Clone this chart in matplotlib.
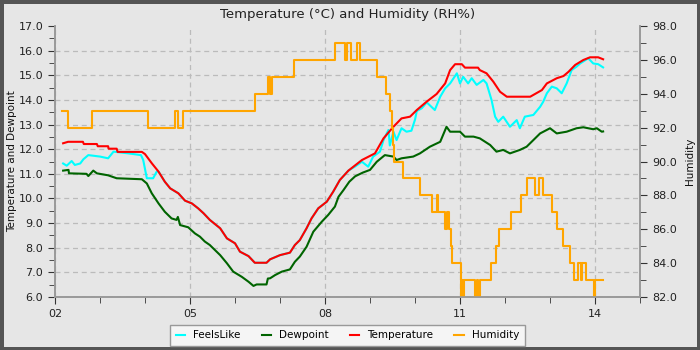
import matplotlib.pyplot as plt
from matplotlib.ticker import MultipleLocator, FormatStrFormatter, FuncFormatter

# hour of day
temp_t = [2.18, 2.29, 2.62, 2.64, 2.93, 2.95, 3.18, 3.19, 3.37, 3.39, 3.93, 4.00,
          4.15, 4.30, 4.44, 4.56, 4.74, 4.89, 5.04, 5.18, 5.30, 5.44, 5.67, 5.82,
          6.00, 6.11, 6.30, 6.44, 6.70, 6.78, 7.00, 7.22, 7.33, 7.44, 7.59, 7.70,
          7.85, 8.04, 8.18, 8.33, 8.52, 8.82, 9.11, 9.30, 9.52, 9.70, 9.89, 10.04,
          10.26, 10.48, 10.67, 10.78, 10.89, 11.04, 11.11, 11.40, 11.44, 11.59,
          11.74, 11.89, 12.04, 12.56, 12.82, 12.93, 13.15, 13.30, 13.41, 13.56,
          13.74, 13.89, 14.07, 14.18]
temp_v = [12.24, 12.30, 12.30, 12.21, 12.21, 12.12, 12.12, 12.02, 12.02, 11.89, 11.89, 11.80,
          11.43, 11.09, 10.68, 10.41, 10.21, 9.91, 9.80, 9.60, 9.40, 9.13, 8.79, 8.38,
          8.18, 7.84, 7.66, 7.39, 7.39, 7.53, 7.70, 7.80, 8.11, 8.31, 8.79, 9.19,
          9.60, 9.87, 10.27, 10.75, 11.13, 11.56, 11.83, 12.44, 12.91, 13.25, 13.32, 13.59,
          13.93, 14.24, 14.67, 15.21, 15.45, 15.45, 15.31, 15.31, 15.21, 15.08,
          14.74, 14.33, 14.13, 14.13, 14.40, 14.67, 14.88, 14.97, 15.14, 15.42,
          15.62, 15.73, 15.73, 15.65]

feels_t = [2.18, 2.26, 2.37, 2.44, 2.56, 2.63, 2.74, 3.00, 3.18, 3.30, 3.63, 3.91,
           3.96, 4.04, 4.18, 4.26, 4.30, 4.44, 4.56, 4.74, 4.89, 5.04, 5.18, 5.30,
           5.44, 5.67, 5.82, 6.00, 6.11, 6.30, 6.44, 6.70, 6.78, 7.00, 7.22, 7.33,
           7.44, 7.59, 7.70, 7.85, 8.04, 8.18, 8.33, 8.52, 8.67, 8.82, 8.96, 9.07,
           9.22, 9.30, 9.41, 9.44, 9.52, 9.59, 9.70, 9.81, 9.92, 10.00, 10.04, 10.15,
           10.26, 10.44, 10.56, 10.67, 10.78, 10.93, 11.00, 11.07, 11.18, 11.26,
           11.37, 11.52, 11.59, 11.70, 11.78, 11.85, 11.96, 12.11, 12.26, 12.33,
           12.44, 12.63, 12.78, 12.85, 12.93, 13.04, 13.15, 13.26, 13.37, 13.48,
           13.59, 13.67, 13.85, 13.96, 14.07, 14.18]
feels_v = [11.42, 11.33, 11.52, 11.36, 11.42, 11.59, 11.76, 11.70, 11.63, 11.90, 11.83, 11.76,
           11.56, 10.82, 10.82, 11.09, 11.09, 10.68, 10.41, 10.21, 9.91, 9.80, 9.60, 9.40,
           9.13, 8.79, 8.38, 8.18, 7.84, 7.66, 7.39, 7.39, 7.53, 7.70, 7.80, 8.11,
           8.31, 8.79, 9.19, 9.60, 9.87, 10.27, 10.75, 11.13, 11.30, 11.49, 11.29, 11.70,
           11.90, 12.37, 12.78, 12.15, 12.71, 12.37, 12.85, 12.71, 12.75, 13.20, 13.55, 13.66,
           13.90, 13.59, 14.13, 14.47, 14.67, 15.08, 14.67, 14.94, 14.67, 14.88,
           14.61, 14.81, 14.67, 14.00, 13.32, 13.11, 13.32, 12.91, 13.18, 12.85,
           13.32, 13.39, 13.72, 13.93, 14.27, 14.54, 14.47, 14.27, 14.67, 15.21,
           15.35, 15.48, 15.69, 15.48, 15.45, 15.32]

dew_t = [2.18, 2.30, 2.31, 2.70, 2.74, 2.85, 2.93, 3.18, 3.37, 3.93, 4.04, 4.15,
         4.30, 4.44, 4.59, 4.70, 4.73, 4.78, 4.96, 5.11, 5.22, 5.33, 5.44, 5.67,
         5.82, 5.96, 6.15, 6.30, 6.41, 6.48, 6.70, 6.73, 6.78, 6.89, 7.04, 7.22,
         7.33, 7.44, 7.59, 7.74, 7.93, 8.07, 8.22, 8.30, 8.41, 8.54, 8.67, 8.84,
         9.00, 9.15, 9.33, 9.52, 9.59, 9.70, 9.96, 10.11, 10.33, 10.56, 10.70, 10.78,
         11.00, 11.11, 11.30, 11.44, 11.67, 11.81, 11.96, 12.11, 12.33, 12.48,
         12.63, 12.78, 13.00, 13.15, 13.37, 13.59, 13.74, 13.96, 14.04, 14.15, 14.18]
dew_v = [11.13, 11.16, 11.02, 11.00, 10.91, 11.13, 11.02, 10.94, 10.82, 10.78, 10.61, 10.21,
         9.80, 9.46, 9.19, 9.13, 9.25, 8.92, 8.83, 8.58, 8.45, 8.25, 8.11, 7.70,
         7.37, 7.03, 6.82, 6.62, 6.45, 6.51, 6.51, 6.75, 6.76, 6.89, 7.03, 7.12,
         7.43, 7.64, 8.04, 8.65, 9.06, 9.33, 9.67, 10.07, 10.34, 10.68, 10.90, 11.05,
         11.16, 11.49, 11.76, 11.70, 11.56, 11.63, 11.70, 11.83, 12.10, 12.30, 12.91, 12.71,
         12.71, 12.51, 12.51, 12.44, 12.17, 11.90, 11.97, 11.83, 11.97, 12.10,
         12.37, 12.64, 12.85, 12.64, 12.71, 12.85, 12.89, 12.81, 12.85, 12.71, 12.72]

hum_t = [2.16, 2.29, 2.82, 4.07, 4.67, 4.73, 4.84, 6.44, 6.73, 6.78, 6.82, 7.31,
         8.22, 8.44, 8.49, 8.58, 8.71, 8.78, 9.16, 9.36, 9.44, 9.49, 9.51, 9.53,
         9.73, 10.11, 10.38, 10.49, 10.52, 10.67, 10.71, 10.76, 10.80, 10.82, 11.02,
         11.04, 11.07, 11.09, 11.33, 11.37, 11.40, 11.44, 11.69, 11.80, 11.87, 12.13,
         12.35, 12.49, 12.67, 12.76, 12.84, 13.04, 13.15, 13.28, 13.44, 13.53, 13.62,
         13.69, 13.71, 13.79, 13.98, 14.00, 14.18]
hum_v = [93, 92, 93, 92, 93, 92, 93, 94, 95, 94, 95, 96,
         97, 96, 97, 96, 97, 96, 95, 94, 93, 92, 91, 90,
         89, 88, 87, 88, 87, 86, 87, 86, 85, 84, 82,
         83, 82, 83, 82, 83, 82, 83, 84, 85, 86, 87,
         88, 89, 88, 89, 88, 87, 86, 85, 84, 83, 84,
         83, 84, 83, 82, 83, 83]

hour_ticks = [2, 5, 8, 11, 14]
temp_ticks = [6, 7, 8, 9, 10, 11, 12, 13, 14, 15, 16, 17]

bg = '#e6e6e6'
axis_col = '#999999'

fig = plt.figure(figsize=(7, 3.5), dpi=100, facecolor=bg)
fig.patch.set_edgecolor('#555555')
fig.patch.set_linewidth(5)
ax = fig.add_axes([0.0786, 0.1514, 0.8357, 0.7743], facecolor=bg)
ax2 = ax.twinx()

l1, = ax.plot(feels_t, feels_v, color='#00ffff', lw=1.5, label='FeelsLike')
l2, = ax.plot(dew_t, dew_v, color='#006400', lw=1.5, label='Dewpoint')
l3, = ax.plot(temp_t, temp_v, color='#ff0000', lw=1.5, label='Temperature')
l4, = ax2.plot(hum_t, hum_v, color='#ffa500', lw=1.5, drawstyle='steps-post', label='Humidity')

ax.set_xlim(2, 15)
ax.set_ylim(6, 17)
ax2.set_ylim(82, 98)

ax.set_xticks(hour_ticks)
ax.xaxis.set_minor_locator(MultipleLocator(1))
ax.xaxis.set_major_formatter(FuncFormatter(lambda v, p: '%02d' % int(round(v))))
ax.set_yticks(temp_ticks)
ax.yaxis.set_minor_locator(MultipleLocator(0.5))
ax.yaxis.set_major_formatter(FormatStrFormatter('%.1f'))
ax2.yaxis.set_major_locator(MultipleLocator(2))
ax2.yaxis.set_minor_locator(MultipleLocator(1))
ax2.yaxis.set_major_formatter(FormatStrFormatter('%.1f'))

for a in (ax, ax2):
    a.spines['top'].set_visible(False)
    for s in ('left', 'right', 'bottom'):
        a.spines[s].set_color(axis_col)
        a.spines[s].set_linewidth(1.2)
    a.tick_params(which='major', length=5, color='#333333', labelsize=8, labelcolor='#222222')
    a.tick_params(which='minor', length=4, color='#333333')

ax.grid(True, which='major', linestyle=(0, (4, 3)), color='#bbbbbb', linewidth=0.9)
ax.set_axisbelow(True)

ax.set_ylabel('Temperature and Dewpoint', fontsize=7.5, color='#111111', labelpad=1)
ax2.set_ylabel('Humidity', fontsize=7.5, color='#111111', labelpad=6)
ax.set_title('Temperature (°C) and Humidity (RH%)', fontsize=9.5, color='#222222', pad=6)

leg = ax.legend(handles=[l1, l2, l3, l4], loc='upper center', bbox_to_anchor=(0.5, -0.085),
                ncol=4, fontsize=7.5, frameon=True, fancybox=False, handlelength=0.9,
                columnspacing=2.0, borderpad=0.5, facecolor='#f5f5f5', edgecolor='#999999')
leg.get_frame().set_alpha(1)

# no grid line along the top edge
fig.canvas.draw()
ax.yaxis.get_major_ticks()[-1].gridline.set_visible(False)

fig.savefig('out.png', dpi=100, facecolor=fig.get_facecolor(), edgecolor=fig.get_edgecolor())
